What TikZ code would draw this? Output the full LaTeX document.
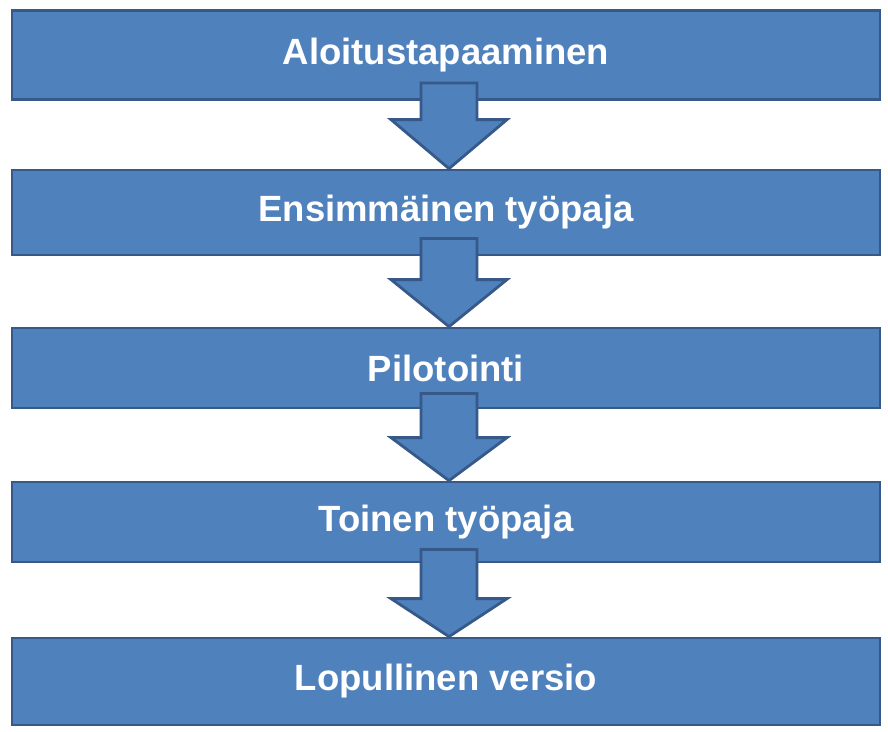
\documentclass[tikz,border=0pt]{standalone}
\usepackage{fontspec}
\setmainfont{Liberation Sans}
\usetikzlibrary{calc}
\definecolor{boxfill}{HTML}{4F81BD}
\definecolor{boxline}{HTML}{36598A}
\tikzset{
  stagebox/.style={draw=boxline, fill=boxfill, line width=2.8pt, minimum width=868pt,
    text=white, font=\fontsize{36.5}{42}\selectfont\bfseries, inner sep=0pt},
  flowarr/.style={draw=boxline, fill=boxfill, line width=2.8pt, line join=miter}
}
\newcommand\flowarrow[4]{% from, to, overlap, head length
  \draw[flowarr] ($(#1.south)+(-25,-#3)$) -- ($(#1.south)+(31,-#3)$)
    -- ($(#2.north)+(31,-#4)$) -- ($(#2.north)+(61,-#4)$) -- ($(#2.north)+(3,0)$)
    -- ($(#2.north)+(-55,-#4)$) -- ($(#2.north)+(-25,-#4)$) -- cycle;}
\begin{document}
\begin{tikzpicture}[x=1pt,y=-1pt]
\useasboundingbox[fill=white] (0,0) rectangle (888,731);
\node[stagebox, minimum height=89pt] (b1) at (446,55) {Aloitustapaaminen};
\node[stagebox, minimum height=85pt] (b2) at (446,212.5) {Ensimmäinen työpaja};
\node[stagebox, minimum height=80pt] (b3) at (446,368) {Pilotointi};
\node[stagebox, minimum height=80pt] (b4) at (446,522) {Toinen työpaja};
\node[stagebox, minimum height=87pt] (b5) at (446,681.5) {Lopullinen versio};
\flowarrow{b1}{b2}{18}{49}
\flowarrow{b2}{b3}{18}{47}
\flowarrow{b3}{b4}{16}{43}
\flowarrow{b4}{b5}{14}{38}
\end{tikzpicture}
\end{document}
